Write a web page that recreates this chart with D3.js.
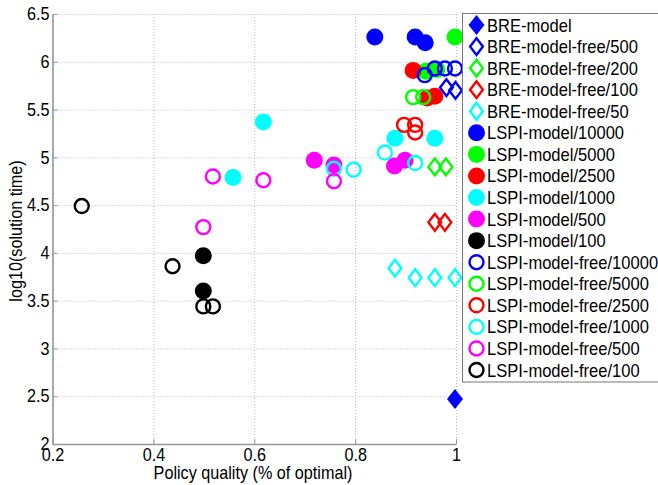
<!DOCTYPE html>
<html>
<head>
<meta charset="utf-8">
<script src="https://cdn.jsdelivr.net/npm/d3@7"></script>
<style>
  body { margin: 0; background: #fff; }
  svg { display: block; font-family: "Liberation Sans", Arial, sans-serif; }
</style>
</head>
<body>
<div id="chart"></div>
<script>
// series, in legend order
const labels = [
  "BRE-model", "BRE-model-free/500", "BRE-model-free/200", "BRE-model-free/100", "BRE-model-free/50",
  "LSPI-model/10000", "LSPI-model/5000", "LSPI-model/2500", "LSPI-model/1000", "LSPI-model/500", "LSPI-model/100",
  "LSPI-model-free/10000", "LSPI-model-free/5000", "LSPI-model-free/2500", "LSPI-model-free/1000",
  "LSPI-model-free/500", "LSPI-model-free/100"
];

// policy quality (x) per series
const quality = [
  [0.998],
  [0.981, 0.999],
  [0.958, 0.980],
  [0.958, 0.978],
  [0.879, 0.919, 0.958, 0.998],
  [0.839, 0.919, 0.939],
  [0.998, 0.940, 0.962],
  [0.915, 0.943, 0.958],
  [0.618, 0.558, 0.879, 0.958],
  [0.719, 0.758, 0.878, 0.899],
  [0.499, 0.499],
  [0.938, 0.958, 0.978, 0.998],
  [0.915, 0.935],
  [0.897, 0.919, 0.919],
  [0.859, 0.758, 0.797, 0.919],
  [0.518, 0.618, 0.758, 0.499],
  [0.258, 0.438, 0.499, 0.518]
];

// log10(solution time) (y) per series
const logTime = [
  [2.47],
  [5.73, 5.70],
  [4.90, 4.90],
  [4.32, 4.32],
  [3.84, 3.74, 3.74, 3.74],
  [6.26, 6.26, 6.20],
  [6.26, 5.90, 5.92],
  [5.91, 5.62, 5.64],
  [5.37, 4.79, 5.20, 5.20],
  [4.97, 4.92, 4.91, 4.97],
  [3.97, 3.60],
  [5.86, 5.93, 5.93, 5.93],
  [5.63, 5.63],
  [5.34, 5.34, 5.26],
  [5.05, 4.88, 4.87, 4.94],
  [4.80, 4.76, 4.75, 4.27],
  [4.49, 3.86, 3.44, 3.44]
];

const xTicks = [0.2, 0.4, 0.6, 0.8, 1];
const yTicks = [2, 2.5, 3, 3.5, 4, 4.5, 5, 5.5, 6, 6.5];

// marker styling per series
const palette = ["#0000ff", "#0000ff", "#00ff00", "#ff0000", "#00ffff",
  "#0000ff", "#00ff00", "#ff0000", "#00ffff", "#ff00ff", "#000000",
  "#0000ff", "#00ff00", "#ff0000", "#00ffff", "#ff00ff", "#000000"];
const shapes = ["diamond", "diamond", "diamond", "diamond", "diamond",
  "circle", "circle", "circle", "circle", "circle", "circle",
  "circle", "circle", "circle", "circle", "circle", "circle"];
const filled = [true, false, false, false, false,
  true, true, true, true, true, true,
  false, false, false, false, false, false];

const W = 658, H = 485;
const PLOT = {LEFT: 52.5, RIGHT: 456, TOP: 14, BOTTOM: 444};

const svg = d3.select("#chart").append("svg")
  .attr("width", W).attr("height", H);

const x = d3.scaleLinear().domain([0.2, 1]).range([PLOT.LEFT, PLOT.RIGHT]);
const y = d3.scaleLinear().domain([2, 6.5]).range([PLOT.BOTTOM, PLOT.TOP]);

// grid
const grid = svg.append("g");
grid.append("g")
  .attr("transform", `translate(0,${PLOT.BOTTOM})`)
  .call(d3.axisBottom(x).tickValues(xTicks).tickSize(-(PLOT.BOTTOM - PLOT.TOP)).tickFormat(""))
  .call(g => g.select(".domain").remove());
grid.append("g")
  .attr("transform", `translate(${PLOT.LEFT},0)`)
  .call(d3.axisLeft(y).tickValues(yTicks).tickSize(-(PLOT.RIGHT - PLOT.LEFT)).tickFormat(""))
  .call(g => g.select(".domain").remove());
grid.selectAll("line")
  .attr("stroke", "#b8b8b8")
  .attr("stroke-width", 1)
  .attr("stroke-dasharray", "1,2");

// axes
const xAxisG = svg.append("g")
  .attr("transform", `translate(0,${PLOT.BOTTOM})`)
  .call(d3.axisBottom(x).tickValues(xTicks).tickFormat(d => d).tickSizeInner(-5).tickSizeOuter(0).tickPadding(4));
const yAxisG = svg.append("g")
  .attr("transform", `translate(${PLOT.LEFT},0)`)
  .call(d3.axisLeft(y).tickValues(yTicks).tickFormat(d => d).tickSizeInner(-5).tickSizeOuter(0).tickPadding(3));

[xAxisG, yAxisG].forEach(g => {
  g.select(".domain").attr("stroke", "#999").attr("stroke-width", 1.6);
  g.selectAll(".tick line").attr("stroke", "#999");
  g.selectAll("text")
    .attr("font-family", "'Liberation Sans', Arial, sans-serif")
    .attr("font-size", 18)
    .attr("fill", "#000")
    .attr("transform", "scale(0.9,1)");
});
yAxisG.selectAll("text").attr("x", -3 / 0.9);

// axis labels
svg.append("text")
  .attr("transform", `translate(253,479) scale(0.9,1)`)
  .attr("text-anchor", "middle")
  .attr("font-size", 18)
  .text("Policy quality (% of optimal)");
svg.append("text")
  .attr("transform", `translate(22,231) rotate(-90) scale(0.9,1)`)
  .attr("text-anchor", "middle")
  .attr("font-size", 18)
  .text("log10(solution time)");

// markers
function diamondPath(hw, hh) {
  return `M0,${-hh}L${hw},0L0,${hh}L${-hw},0Z`;
}
function drawMarker(sel, i) {
  const col = palette[i];
  if (shapes[i] === "diamond") {
    if (filled[i]) {
      sel.append("path").attr("d", diamondPath(8, 10)).attr("fill", col);
    } else {
      sel.append("path").attr("d", diamondPath(6.4, 8.4))
        .attr("fill", "none").attr("stroke", col).attr("stroke-width", 2.4);
    }
  } else {
    if (filled[i]) {
      sel.append("circle").attr("r", 8.5).attr("fill", col);
    } else {
      sel.append("circle").attr("r", 7)
        .attr("fill", "none").attr("stroke", col).attr("stroke-width", 2.4);
    }
  }
}

const plot = svg.append("g");
labels.forEach((lab, i) => {
  const pts = quality[i].map((q, j) => [q, logTime[i][j]]);
  pts.forEach(p => {
    const g = plot.append("g").attr("transform", `translate(${x(p[0])},${y(p[1])})`);
    drawMarker(g, i);
  });
});

// legend
const legend = svg.append("g");
legend.append("rect")
  .attr("x", 462.5).attr("y", 13.5)
  .attr("width", 220).attr("height", 368.5)
  .attr("fill", "#fff").attr("stroke", "#777").attr("stroke-width", 1);
const rowY = d3.scaleLinear().domain([0, labels.length - 1]).range([25, 370]);
labels.forEach((lab, i) => {
  const row = legend.append("g").attr("transform", `translate(0,${rowY(i)})`);
  const m = row.append("g").attr("transform", "translate(476.5,0)");
  drawMarker(m, i);
  row.append("text")
    .attr("transform", "translate(487,6.5) scale(0.92,1)")
    .attr("font-size", 18)
    .text(lab);
});
</script>
</body>
</html>
